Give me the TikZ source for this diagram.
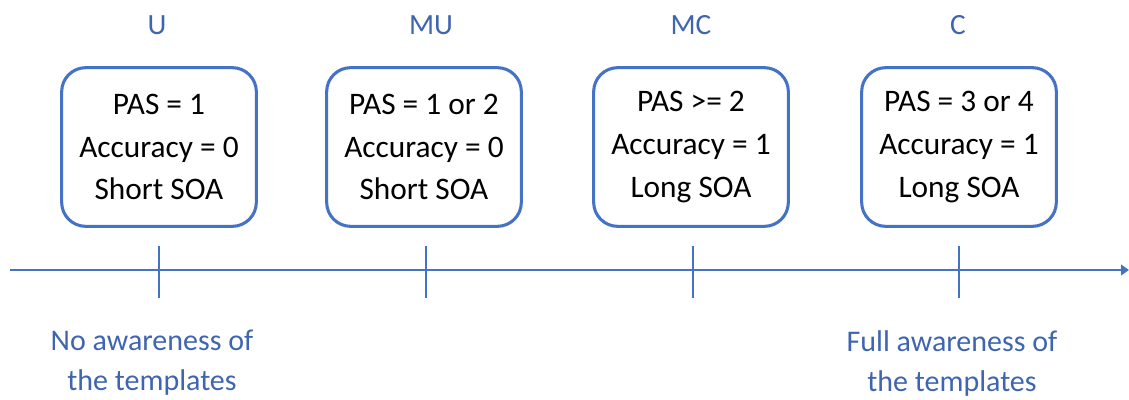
\documentclass[tikz,border=0pt]{standalone}
\usepackage{fontspec}
\setmainfont{Carlito}
\usepackage{xcolor}
\usetikzlibrary{arrows.meta}
\definecolor{lineblue}{HTML}{4472C4}
\definecolor{textblue}{HTML}{3F65B0}

\tikzset{
  stagebox/.style={draw=lineblue, line width=2.3pt, rounded corners=18pt,
    minimum width=146pt, minimum height=119pt, align=center,
    font=\fontsize{23.5}{32}\selectfont, text=black},
  stagelabel/.style={text=textblue, font=\fontsize{22}{26}\selectfont},
  awarelabel/.style={text=textblue, align=center, font=\fontsize{22.5}{30}\selectfont},
  tick/.style={draw=lineblue, line width=2.2pt}
}

\begin{document}
\begin{tikzpicture}[x=0.75pt, y=-0.75pt]
    \useasboundingbox (0,0) rectangle (1129,400);

    % Stage labels
    \node[stagelabel] (lblU)  at (157,25) {U};
    \node[stagelabel] (lblMU) at (431,25) {MU};
    \node[stagelabel] (lblMC) at (691,25) {MC};
    \node[stagelabel] (lblC)  at (958,25) {C};

    % Boxes
    \node[stagebox] (boxU)  at (159,147) {PAS = 1\\Accuracy = 0\\Short SOA};
    \node[stagebox] (boxMU) at (424,147) {PAS = 1 or 2\\Accuracy = 0\\Short SOA};
    \node[stagebox] (boxMC) at (691,147) {PAS >= 2\\Accuracy = 1\\Long SOA};
    \node[stagebox] (boxC)  at (959,147) {PAS = 3 or 4\\Accuracy = 1\\Long SOA};

    % Axis
    \coordinate (axisStart) at (10,270);
    \coordinate (axisEnd) at (1129,270);
    \draw[draw=lineblue, line width=1.5pt, -{Triangle[length=6pt,width=8pt]}] (axisStart) -- (axisEnd);

    % Ticks
    \foreach \name/\x in {U/159, MU/426, MC/693, C/959} {
        \coordinate (tickTop\name) at (\x,246);
        \coordinate (tickBot\name) at (\x,298);
        \draw[tick] (tickTop\name) -- (tickBot\name);
    }

    % Awareness labels
    \node[awarelabel] (noAware)   at (152,363) {No awareness of\\the templates};
    \node[awarelabel] (fullAware) at (952,363) {Full awareness of\\the templates};
\end{tikzpicture}
\end{document}
